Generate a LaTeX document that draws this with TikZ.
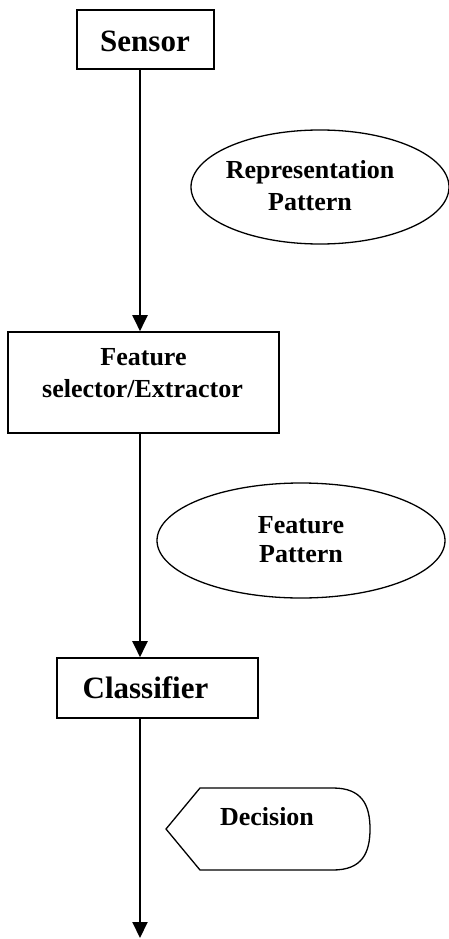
\documentclass[tikz,border=0pt]{standalone}
\usepackage{fontspec}
\setmainfont{Liberation Serif}
\usetikzlibrary{arrows.meta,shapes.geometric}
\begin{document}
\begin{tikzpicture}[x=1pt,y=-1pt,
  box/.style={draw, line width=1.6pt, fill=white, inner sep=0pt},
  ell/.style={draw, ellipse, line width=1.3pt, inner sep=0pt},
  flow/.style={line width=2pt, -{Triangle[width=15pt,length=16pt]}},
  big/.style={anchor=base, font=\fontsize{31}{31}\selectfont\bfseries},
  mid/.style={anchor=base, font=\fontsize{26}{26}\selectfont\bfseries}]
\useasboundingbox (0,0) rectangle (449,939);
% boxes
\node[box, minimum width=137pt, minimum height=59pt] (sensor) at (145.5,39.5) {};
\node[box, minimum width=271pt, minimum height=101pt] (feat) at (143.5,382.5) {};
\node[box, minimum width=201pt, minimum height=60pt] (clas) at (157.5,688) {};
\coordinate (end) at (140,938);
% ellipses
\node[ell, minimum width=258pt, minimum height=114pt] (rep) at (320,187) {};
\node[ell, minimum width=288pt, minimum height=115pt] (fp) at (301,540.5) {};
% decision
\draw[line width=1.3pt] (166,829) -- (200,788) -- (333,788)
  .. controls (362,788) and (370,805) .. (370,829)
  .. controls (370,853) and (362,870) .. (333,870)
  -- (200,870) -- cycle;
% connectors
\draw[flow] (sensor.south -| 140,0) -- (feat.north -| 140,0);
\draw[flow] (feat.south -| 140,0) -- (clas.north -| 140,0);
\draw[flow] (clas.south -| 140,0) -- (end);
% texts
\node[big] (tsensor) at (145,52) {Sensor};
\node[mid] (tfeat1) at (143.5,365) {Feature};
\node[mid] (tfeat2) at (142.5,397) {selector/Extractor};
\node[mid] (trep1) at (310,178) {Representation};
\node[mid] (trep2) at (310,210) {Pattern};
\node[mid] (tfp1) at (301,533) {Feature};
\node[mid] (tfp2) at (301,562) {Pattern};
\node[big] (tclas) at (145.5,698) {Classifier};
\node[mid] (tdec) at (267,825) {Decision};
\end{tikzpicture}
\end{document}
